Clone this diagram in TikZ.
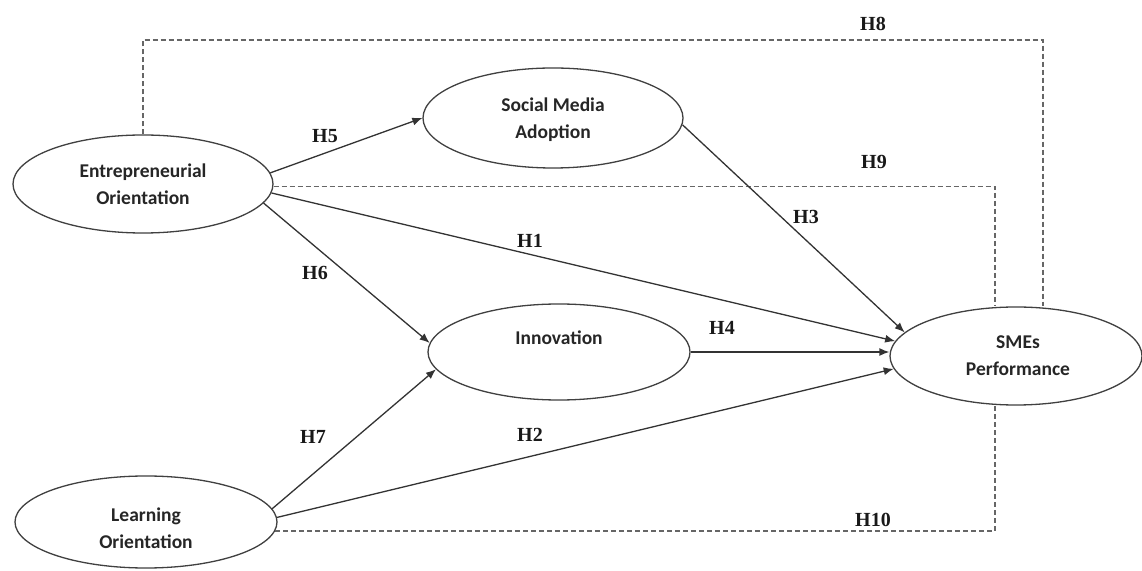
\documentclass[tikz,border=0pt]{standalone}
\usepackage{fontspec}
\setmainfont{Liberation Serif}
\newfontfamily\calib{Carlito}
\usetikzlibrary{shapes.geometric,arrows.meta,calc}
\begin{document}
\begin{tikzpicture}[x=1pt,y=1pt,
 ell/.style={ellipse,draw=black!75,line width=1.3pt,inner sep=0pt,fill=white},
 lbl/.style={font=\calib\bfseries\fontsize{19.5}{27}\selectfont,align=center,text=black!85},
 hyp/.style={font=\bfseries\fontsize{20}{24}\selectfont,text=black!90},
 arr/.style={draw=black!80,line width=1.3pt,-{Latex[length=10pt,width=8pt]}},
 dl/.style={draw=black!60,line width=1.2pt,dash pattern=on 5pt off 3pt}]
\useasboundingbox (0,0) rectangle (1142,570);
\fill[white] (0,0) rectangle (1142,570);
% ellipses
\node[ell,minimum width=260pt,minimum height=98pt] (eo) at (143,386) {};
\node[lbl] (eot) at (143,386) {Entrepreneurial\\Orientation};
\node[ell,minimum width=260pt,minimum height=100pt] (sma) at (553,452) {};
\node[lbl] (smat) at (553,450) {Social Media\\Adoption};
\node[ell,minimum width=262pt,minimum height=96pt] (inn) at (559,218) {};
\node[lbl] (innt) at (559,232) {Innovation};
\node[ell,minimum width=252pt,minimum height=98pt] (sme) at (1016,214) {};
\node[lbl] (smet) at (1018,214) {SMEs\\Performance};
\node[ell,minimum width=262pt,minimum height=92pt] (lo) at (146,48) {};
\node[lbl] (lot) at (146,42) {Learning\\Orientation};
% dashed paths
\coordinate (h8c) at (1043,530);
\draw[dl] (eo.north) |- (h8c) -- (h8c |- sme.north);
\draw[dl] (eo.-1) -| ($(sme.north)+(-21,0)$);
\draw[dl] (lo.-4) -| ($(sme.south)+(-21,0)$);
% arrows
\draw[arr] (eo.5) -- (sma.west);
\draw[arr] (sma.-3) -- (sme.168);
\draw[arr] (eo.-4) -- (sme.173);
\draw[arr] (eo.-9) -- (inn.176);
\draw[arr] (inn.east) -- (inn.east -| sme.west);
\draw[arr] (lo.6) -- (inn.188);
\draw[arr] (lo.2) -- (sme.186);
% hypothesis labels
\node[hyp] (h8) at (873,546) {H8};
\node[hyp] (h5) at (325,434) {H5};
\node[hyp] (h9) at (874,408) {H9};
\node[hyp] (h3) at (806,353) {H3};
\node[hyp] (h1) at (530,329) {H1};
\node[hyp] (h6) at (315,297) {H6};
\node[hyp] (h4) at (722,242) {H4};
\node[hyp] (h7) at (313,133) {H7};
\node[hyp] (h2) at (530,135) {H2};
\node[hyp] (h10) at (873,50) {H10};
\end{tikzpicture}
\end{document}
